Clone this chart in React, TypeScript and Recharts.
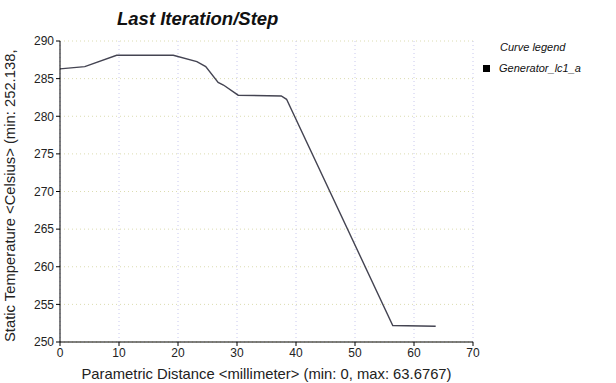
import React from "react";
import {
  LineChart,
  Line,
  XAxis,
  YAxis,
  CartesianGrid,
  Label,
} from "recharts";

const distance = [0, 4.2, 9.6, 19.2, 23.2, 24.7, 26.8, 27.7, 30.2, 37.5, 38.4, 56.4, 63.6767];
const temperature = [286.3, 286.6, 288.1, 288.1, 287.25, 286.6, 284.5, 284.15, 282.8, 282.7, 282.25, 252.2, 252.1];
const xTicks = [0, 10, 20, 30, 40, 50, 60, 70];
const yTicks = [250, 255, 260, 265, 270, 275, 280, 285, 290];
const seriesName = "Generator_lc1_a";

const data = distance.map((d, i) => ({ d, t: temperature[i] }));

const tickFont = { fontFamily: "Liberation Sans, Arial, sans-serif", fontSize: 12, fill: "#222" };

const LegendBox = () => (
  <div style={{ fontFamily: "Liberation Sans, Arial, sans-serif", fontStyle: "italic", fontSize: 11, color: "#111" }}>
    <div style={{ marginLeft: 17 }}>Curve legend</div>
    <div style={{ display: "flex", alignItems: "center", marginTop: 9 }}>
      <span style={{ display: "inline-block", width: 7, height: 7, background: "#000", marginRight: 9 }} />
      <span>{seriesName}</span>
    </div>
  </div>
);

export default function App() {
  return (
    <div style={{ position: "absolute", left: 0, top: 0, width: 616, height: 383, background: "#fff" }}>
      <div
        style={{
          position: "absolute",
          left: 117,
          top: 8,
          fontFamily: "Liberation Sans, Arial, sans-serif",
          fontWeight: "bold",
          fontStyle: "italic",
          fontSize: 18.5,
          color: "#111",
        }}
      >
        Last Iteration/Step
      </div>
      <div style={{ position: "absolute", left: 483, top: 41 }}>
        <LegendBox />
      </div>
      <LineChart width={616} height={383} data={data} margin={{ top: 41, right: 143, bottom: 0, left: 0 }}>
        <CartesianGrid horizontal={true} vertical={false} stroke="#dcdcb0" strokeDasharray="1 3" />
        <CartesianGrid horizontal={false} vertical={true} stroke="#c8c8ee" strokeDasharray="1 3" />
        <XAxis
          dataKey="d"
          type="number"
          domain={[0, 70]}
          ticks={xTicks}
          axisLine={{ stroke: "#000" }}
          tickLine={{ stroke: "#000" }}
          tickSize={4}
          tick={tickFont}
          height={41}
        >
          <Label
            value="Parametric Distance <millimeter> (min: 0, max: 63.6767)"
            position="insideBottom"
            offset={4}
            style={{ fontFamily: "Liberation Sans, Arial, sans-serif", fontSize: 14.8, fill: "#222" }}
          />
        </XAxis>
        <YAxis
          type="number"
          domain={[250, 290]}
          ticks={yTicks}
          axisLine={{ stroke: "#000" }}
          tickLine={{ stroke: "#000" }}
          tickSize={4}
          tick={tickFont}
          width={60}
        >
          <Label
            content={() => (
              <text
                x={15}
                y={342}
                transform="rotate(-90, 15, 342)"
                textAnchor="start"
                style={{ fontFamily: "Liberation Sans, Arial, sans-serif", fontSize: 14.8, fill: "#222" }}
              >
                Static Temperature &lt;Celsius&gt; (min: 252.138,
              </text>
            )}
          />
        </YAxis>
        <Line
          type="linear"
          dataKey="t"
          name={seriesName}
          stroke="#444452"
          strokeWidth={1.4}
          dot={false}
          isAnimationActive={false}
        />
      </LineChart>
    </div>
  );
}
